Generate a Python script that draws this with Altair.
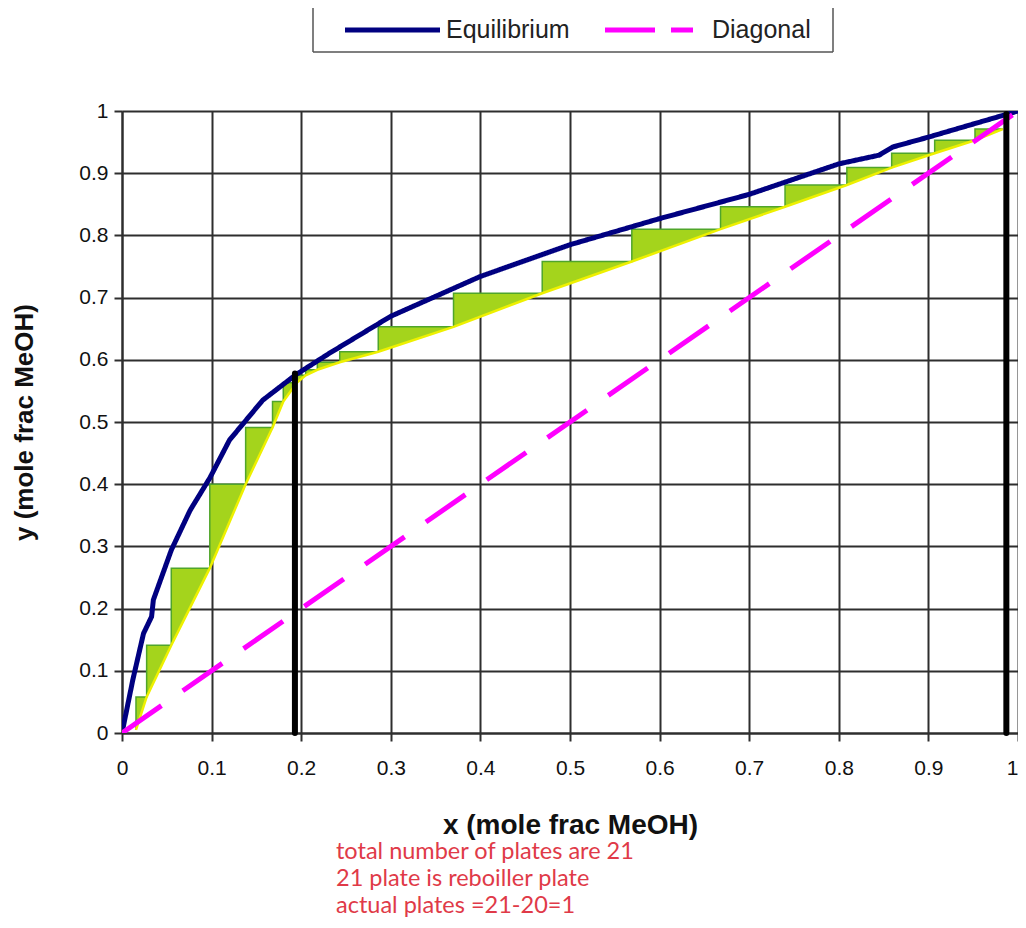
import altair as alt
import pandas as pd

# ---------------- data ----------------
eq_x = [0.0, 0.012, 0.024, 0.033, 0.035, 0.055, 0.076, 0.098, 0.12, 0.157, 0.194,
        0.232, 0.3, 0.4, 0.5, 0.6, 0.7, 0.8, 0.845, 0.86, 0.9, 1.0]
eq_y = [0.0, 0.085, 0.16, 0.187, 0.214, 0.294, 0.358, 0.41, 0.471, 0.535, 0.576,
        0.611, 0.67, 0.734, 0.785, 0.827, 0.866, 0.915, 0.929, 0.942, 0.958, 1.0]

diag_x = [0.0, 1.0]
diag_y = [0.0, 1.0]

# corners of the McCabe-Thiele staircase lying on the operating lines
op_x = [0.0156, 0.0275, 0.055, 0.098, 0.138, 0.168, 0.18, 0.195, 0.205, 0.218, 0.243,
        0.286, 0.37, 0.469, 0.569, 0.668, 0.74, 0.809, 0.859, 0.907, 0.952, 0.983]
op_y = [0.005, 0.058, 0.141, 0.265, 0.40, 0.491, 0.533, 0.563, 0.575, 0.584, 0.596,
        0.613, 0.653, 0.707, 0.758, 0.81, 0.846, 0.881, 0.909, 0.932, 0.953, 0.971]

# thick black vertical markers (feed and distillate compositions)
marker_x = [0.193, 0.987]
marker_top = [0.578, 0.995]

tick_values = [0, 0.1, 0.2, 0.3, 0.4, 0.5, 0.6, 0.7, 0.8, 0.9, 1]
series_names = ["Equilibrium", "Diagonal"]
series_colors = ["#000080", "#FF00FF"]
notes = ["\u00a0total number of plates are 21",
         "21 plate is reboiller plate",
         "actual plates =21-20=1"]

# ---------------- tables ----------------
curves = pd.concat([
    pd.DataFrame({"x": eq_x, "y": eq_y, "series": "Equilibrium", "o": range(len(eq_x))}),
    pd.DataFrame({"x": diag_x, "y": diag_y, "series": "Diagonal", "o": range(len(diag_x))}),
])

tri_rows = []
stair_rows = [{"x": op_x[0], "y": op_y[0], "o": 0}]
k = 1
for i in range(1, len(op_x)):
    tri_rows.append({"x": op_x[i - 1], "top": op_y[i], "bot": op_y[i - 1], "step": i})
    tri_rows.append({"x": op_x[i], "top": op_y[i], "bot": op_y[i], "step": i})
    stair_rows.append({"x": op_x[i - 1], "y": op_y[i], "o": k}); k += 1
    stair_rows.append({"x": op_x[i], "y": op_y[i], "o": k}); k += 1
tri = pd.DataFrame(tri_rows)
stair = pd.DataFrame(stair_rows)
opline = pd.DataFrame({"x": op_x, "y": op_y, "o": range(len(op_x))})
markers = pd.DataFrame({"x": marker_x, "top": marker_top, "bottom": [0, 0]})
one = pd.DataFrame({"k": [0]})

# ---------------- scales / axes ----------------
xs = alt.Scale(domain=[0, 1], nice=False, zero=False)
ys = alt.Scale(domain=[0, 1], nice=False, zero=False)

axis_common = dict(values=tick_values, format="~g", grid=True, gridColor="#2e2e2e",
                   gridWidth=2, gridOpacity=1, domainColor="#2e2e2e", domainWidth=2,
                   tickColor="#2e2e2e", tickWidth=2, tickSize=8,
                   labelFont="Liberation Sans", labelFontSize=21, labelColor="#111111",
                   titleFont="Liberation Sans", titleFontWeight="bold", titleColor="#111111")

x_axis = alt.Axis(title="x (mole frac MeOH)", labelPadding=16, titleFontSize=28,
                  titlePadding=33, labelFlush=False,
                  labelAlign={"condition": {"test": "datum.value == 1", "value": "right"},
                              "value": "center"},
                  **axis_common)
y_axis = alt.Axis(title="y (mole frac MeOH)", labelPadding=6, titleFontSize=26,
                  titlePadding=41, **axis_common)

# ---------------- layers ----------------
fill = alt.Chart(tri).mark_area(color="#A4D41C", opacity=1, strokeWidth=0).encode(
    x=alt.X("x:Q", scale=xs, axis=x_axis),
    y=alt.Y("top:Q", scale=ys, axis=y_axis),
    y2="bot:Q",
    detail="step:N",
)

stairs = alt.Chart(stair).mark_line(color="#4FA52B", strokeWidth=1.5).encode(
    x=alt.X("x:Q", scale=xs), y=alt.Y("y:Q", scale=ys), order="o:Q")

opl = alt.Chart(opline).mark_line(color="#EEF000", strokeWidth=2.5).encode(
    x=alt.X("x:Q", scale=xs), y=alt.Y("y:Q", scale=ys), order="o:Q")

lines = alt.Chart(curves).mark_line(strokeWidth=5, clip=True).encode(
    x=alt.X("x:Q", scale=xs),
    y=alt.Y("y:Q", scale=ys),
    color=alt.Color("series:N", scale=alt.Scale(domain=series_names, range=series_colors),
                    legend=None),
    strokeDash=alt.StrokeDash("series:N", scale=alt.Scale(domain=series_names, range=[[1, 0], [48, 26]]),
                              legend=None),
    order="o:Q",
)

rules = alt.Chart(markers).mark_rule(color="black", strokeWidth=6, strokeCap="round").encode(
    x=alt.X("x:Q", scale=xs), y=alt.Y("top:Q", scale=ys), y2="bottom:Q")

# ---------------- legend box (drawn above the plot) ----------------
base1 = alt.Chart(one)
box_col = "#555555"
leg_left = base1.mark_rule(color=box_col, strokeWidth=1.5).encode(
    x=alt.value(191), y=alt.value(-104), y2=alt.value(-59))
leg_right = base1.mark_rule(color=box_col, strokeWidth=1.5).encode(
    x=alt.value(711), y=alt.value(-104), y2=alt.value(-59))
leg_bottom = base1.mark_rule(color=box_col, strokeWidth=1.5).encode(
    x=alt.value(191), x2=alt.value(711), y=alt.value(-59))
leg_eq = base1.mark_rule(color=series_colors[0], strokeWidth=5).encode(
    x=alt.value(223), x2=alt.value(318), y=alt.value(-81))
leg_diag = base1.mark_rule(color=series_colors[1], strokeWidth=5, strokeDash=[50, 16]).encode(
    x=alt.value(483), x2=alt.value(571), y=alt.value(-81))
leg_t1 = base1.mark_text(text=series_names[0], align="left", baseline="middle",
                         font="Liberation Sans", fontSize=25, color="#222222").encode(
    x=alt.value(324), y=alt.value(-81))
leg_t2 = base1.mark_text(text=series_names[1], align="left", baseline="middle",
                         font="Liberation Sans", fontSize=25, color="#222222").encode(
    x=alt.value(590), y=alt.value(-81))

note = base1.mark_text(
    text=notes, align="left", baseline="middle", font="Lato", fontSize=23.5, lineHeight=27,
    color="#E03A48").encode(x=alt.value(214), y=alt.value(741))

chart = alt.layer(fill, stairs, opl, lines, rules,
                  leg_left, leg_right, leg_bottom, leg_eq, leg_diag, leg_t1, leg_t2,
                  note).properties(
    width=896, height=622,
    autosize=alt.AutoSizeParams(type="none"),
    padding={"left": 114, "top": 103, "right": 0, "bottom": 187},
).configure_view(stroke="#2e2e2e", strokeWidth=2).configure(background="white")

chart.save("out.html", embed_options={"renderer": "svg", "actions": False})
